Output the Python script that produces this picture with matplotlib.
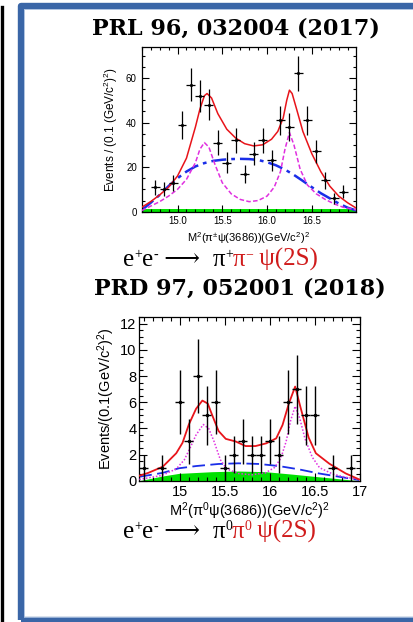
import matplotlib
matplotlib.use("Agg")
import numpy as np
import matplotlib.pyplot as plt
from matplotlib.ticker import MultipleLocator, FormatStrFormatter, FuncFormatter
from matplotlib.patches import Rectangle
from matplotlib.lines import Line2D

plt.rcParams['font.family'] = ['Liberation Sans', 'DejaVu Sans']
plt.rcParams['mathtext.fontset'] = 'custom'
plt.rcParams['mathtext.rm'] = 'Liberation Sans'
plt.rcParams['mathtext.it'] = 'Liberation Sans:italic'
plt.rcParams['mathtext.bf'] = 'Liberation Sans:bold'

# ---------------- e+e- -> pi+ pi- psi(2S) ----------------
charged_m2 = [14.75, 14.85, 14.95, 15.05, 15.15, 15.25, 15.35, 15.45, 15.55, 15.65, 15.75,
              15.85, 15.95, 16.05, 16.15, 16.25, 16.35, 16.45, 16.55, 16.65, 16.75, 16.85]
charged_counts = [11, 10, 13, 39, 57, 52, 48, 31, 22, 32, 17,
                  26, 32, 23, 41, 38, 62, 41, 27, 14, 6, 9]

charged_total_x = [14.60, 14.70, 14.80, 14.90, 15.00, 15.10, 15.20, 15.25, 15.30, 15.33, 15.38,
                   15.45, 15.55, 15.65, 15.75, 15.85, 15.95, 16.05, 16.12, 16.18, 16.22, 16.25,
                   16.28, 16.33, 16.40, 16.50, 16.60, 16.70, 16.80, 16.90, 17.00]
charged_total_y = [2.0, 4.5, 7.5, 11.0, 16.0, 24.0, 38.0, 46.0, 52.0, 53.0, 51.0,
                   44.0, 37.0, 33.0, 30.5, 29.5, 30.0, 32.5, 36.0, 42.0, 50.0, 54.5,
                   53.0, 46.0, 36.0, 26.0, 18.0, 11.5, 7.0, 4.0, 1.5]

charged_signal_x = [14.60, 14.70, 14.80, 14.90, 15.00, 15.10, 15.20, 15.25, 15.30, 15.35, 15.42,
                    15.50, 15.60, 15.70, 15.80, 15.90, 16.00, 16.08, 16.15, 16.20, 16.25, 16.30,
                    16.37, 16.45, 16.55, 16.65, 16.75, 16.85, 17.00]
charged_signal_y = [0.5, 2.5, 4.5, 7.0, 10.0, 14.5, 22.0, 28.0, 31.0, 29.0, 21.0,
                    13.0, 8.0, 5.5, 4.5, 5.0, 7.0, 11.0, 18.0, 28.0, 35.5, 30.0,
                    19.0, 12.0, 8.0, 5.5, 3.5, 2.0, 0.8]

charged_bkg_x = [14.60, 14.70, 14.80, 14.90, 15.00, 15.10, 15.20, 15.30, 15.40, 15.50, 15.60,
                 15.70, 15.80, 15.90, 16.00, 16.10, 16.20, 16.30, 16.40, 16.50, 16.60, 16.70,
                 16.80, 16.90, 17.00]
charged_bkg_y = [0.7, 4.0, 7.5, 11.5, 15.0, 18.0, 20.3, 21.8, 22.8, 23.3, 23.6,
                 23.7, 23.6, 23.2, 22.2, 20.8, 18.9, 16.5, 13.8, 11.0, 8.3, 6.0,
                 3.7, 1.8, 0.5]

charged_band_x = [14.60, 17.00]
charged_band_y = [1.3, 1.3]

# ---------------- e+e- -> pi0 pi0 psi(2S) ----------------
neutral_m2 = [14.6, 14.8, 15.0, 15.1, 15.2, 15.3, 15.4, 15.5, 15.6, 15.7,
              15.8, 15.9, 16.0, 16.1, 16.2, 16.3, 16.4, 16.5, 16.7, 16.9]
neutral_counts = [1, 1, 6, 3, 8, 5, 6, 1, 2, 3,
                  2, 2, 3, 2, 6, 7, 5, 5, 1, 1]

neutral_total_x = [14.55, 14.65, 14.81, 14.96, 15.03, 15.10, 15.18, 15.25, 15.31, 15.36, 15.43,
                   15.51, 15.62, 15.73, 15.84, 15.96, 16.07, 16.14, 16.21, 16.28, 16.34, 16.43,
                   16.51, 16.66, 16.84, 16.99]
neutral_total_y = [0.38, 0.6, 1.07, 2.1, 2.9, 4.3, 5.5, 6.13, 5.9, 5.0, 3.8,
                   3.2, 3.0, 2.65, 2.65, 2.86, 3.24, 4.26, 5.9, 7.2, 5.6, 3.3,
                   2.1, 1.3, 0.56, 0.1]

neutral_signal_x = [14.55, 14.80, 14.96, 15.05, 15.12, 15.18, 15.26, 15.32, 15.38, 15.45, 15.52,
                    15.65, 15.80, 15.95, 16.05, 16.12, 16.18, 16.23, 16.28, 16.33, 16.39, 16.47,
                    16.55, 16.70, 16.85, 17.00]
neutral_signal_y = [0.1, 0.4, 0.9, 1.6, 2.6, 3.5, 4.3, 4.0, 3.0, 1.6, 0.9,
                    0.55, 0.45, 0.6, 1.0, 1.7, 3.0, 4.6, 5.7, 4.8, 3.2, 1.8,
                    1.0, 0.5, 0.25, 0.1]

neutral_bkg_x = [14.55, 14.81, 14.99, 15.18, 15.43, 15.65, 15.88, 16.10, 16.32, 16.54, 16.77, 16.99]
neutral_bkg_y = [0.3, 0.6, 0.95, 1.12, 1.28, 1.33, 1.28, 1.12, 0.87, 0.56, 0.3, 0.05]

neutral_band_x = [14.55, 14.81, 14.99, 15.36, 15.65, 15.95, 16.25, 16.54, 16.84, 16.99]
neutral_band_y = [0.0, 0.36, 0.56, 0.69, 0.74, 0.69, 0.5, 0.3, 0.1, 0.0]

RED = '#e8141a'
MAGENTA = '#e030e0'
BLUE = '#1a2ee8'
GREEN = '#00e000'
TEXT_RED = '#d01c1c'

W, H = 414, 622
fig = plt.figure(figsize=(W / 100, H / 100), dpi=100)
fig.patch.set_facecolor('white')

# page decorations: black rule at the left, blue frame around the panel
fig.add_artist(Line2D([2 / W, 2 / W], [0, 1 - 7 / H], color='black', lw=2.4,
                      transform=fig.transFigure))
fig.add_artist(Rectangle((21.5 / W, 1 - 620 / H), 1.2, (614 / H), fill=False,
                         edgecolor='#3a66a7', lw=4.6, joinstyle='round',
                         transform=fig.transFigure))
fig.add_artist(Rectangle((24.5 / W, 1 - 617 / H), 1.2, (608 / H), fill=False,
                         edgecolor='#a9bfdf', lw=0.6,
                         transform=fig.transFigure))


def style_axes(ax, xmaj, xmin, ymaj, ymin, size, major_len, minor_len):
    ax.xaxis.set_major_locator(MultipleLocator(xmaj))
    ax.xaxis.set_minor_locator(MultipleLocator(xmin))
    ax.yaxis.set_major_locator(MultipleLocator(ymaj))
    ax.yaxis.set_minor_locator(MultipleLocator(ymin))
    ax.tick_params(which='both', direction='in', top=True, right=True, labelsize=size,
                   width=0.8)
    ax.tick_params(which='major', length=major_len)
    ax.tick_params(which='minor', length=minor_len)
    for s in ax.spines.values():
        s.set_linewidth(0.9)


# ---------------- upper panel ----------------
ax1 = fig.add_axes([141.7 / W, 1 - 211.7 / H, 214 / W, 165 / H])
ax1.fill_between(charged_band_x, 0, charged_band_y, color=GREEN, lw=0, zorder=1)
ax1.plot(charged_bkg_x, charged_bkg_y, color=BLUE, lw=1.8, ls=(0, (6, 2, 1.5, 2)), zorder=2)
ax1.plot(charged_signal_x, charged_signal_y, color=MAGENTA, lw=1.1, ls=(0, (3, 1.5)), zorder=3)
ax1.plot(charged_total_x, charged_total_y, color=RED, lw=1.1, zorder=4)
c_counts = np.array(charged_counts, dtype=float)
ax1.errorbar(charged_m2, c_counts, yerr=np.sqrt(c_counts), xerr=0.05, fmt='.', color='black',
             ms=2.5, elinewidth=0.9, capsize=0, zorder=5)
ax1.set_xlim(14.6, 16.99)
ax1.set_ylim(0, 74)
style_axes(ax1, 0.5, 0.1, 20, 5, 7, 5, 2.5)
ax1.xaxis.set_major_formatter(FormatStrFormatter('%.1f'))
ax1.tick_params(axis='x', pad=3)
ax1.set_xlabel('M$^2$(π$^{\\pm}$ψ(3686))(GeV/c$^2$)$^2$', fontsize=8, labelpad=3)
ax1.set_ylabel('Events / (0.1 (GeV/c$^2$)$^2$)', fontsize=8.5, labelpad=4)

# ---------------- lower panel ----------------
ax2 = fig.add_axes([139.3 / W, 1 - 480.7 / H, 220.7 / W, 163.4 / H])
ax2.fill_between(neutral_band_x, 0, neutral_band_y, color=GREEN, lw=0, zorder=1)
ax2.plot(neutral_bkg_x, neutral_bkg_y, color=BLUE, lw=1.3, ls=(0, (7, 3)), zorder=2)
ax2.plot(neutral_signal_x, neutral_signal_y, color=MAGENTA, lw=1.1, ls=(0, (1, 1.2)), zorder=3)
ax2.plot(neutral_total_x, neutral_total_y, color=RED, lw=1.3, zorder=4)
n_counts = np.array(neutral_counts, dtype=float)
ax2.errorbar(neutral_m2, n_counts, yerr=np.sqrt(n_counts), xerr=0.05, fmt='.', color='black',
             ms=3, elinewidth=1.0, capsize=0, zorder=5)
ax2.set_xlim(14.55, 17.0)
ax2.set_ylim(0, 12.5)
style_axes(ax2, 0.5, 0.1, 2, 0.5, 10.5, 6, 3)
ax2.xaxis.set_major_formatter(FuncFormatter(lambda v, p: f'{v:g}'))
ax2.tick_params(axis='x', pad=3)
ax2.tick_params(axis='y', pad=2)
ax2.set_xlabel('M$^2$(π$^0$ψ(3686))(GeV/c$^2$)$^2$', fontsize=10.5, labelpad=1)
ax2.set_ylabel('Events/(0.1(GeV/c$^2$)$^2$)', fontsize=10.5, labelpad=2)

# ---------------- titles ----------------
fig.text(236 / W, 1 - 29 / H, 'PRL 96, 032004 (2017)', ha='center', va='center',
         fontsize=16, fontweight='bold', family=['DejaVu Serif'])
fig.text(240 / W, 1 - 289 / H, 'PRD 97, 052001 (2018)', ha='center', va='center',
         fontsize=16, fontweight='bold', family=['DejaVu Serif'])

renderer = fig.canvas.get_renderer()
serif = ['Liberation Serif', 'DejaVu Serif', 'DejaVu Sans']


def reaction(x0, ybase, parts, size):
    """Draw a reaction line piece by piece; superscripts are smaller and raised."""
    cur = x0
    for txt, col, sup in parts:
        fs = size * 0.55 if sup else size
        yb = ybase - (size * 0.30 * 100 / 72 if sup else 0)
        t = fig.text(cur / W, 1 - yb / H, txt, color=col, fontsize=fs, family=serif,
                     ha='left', va='baseline')
        cur = t.get_window_extent(renderer).x1


reaction(123, 266, [('e', 'black', False), ('+', 'black', True), ('e', 'black', False),
                    ('-', 'black', True), (' ⟶  ', 'black', False), ('π', 'black', False),
                    ('+', 'black', True), ('π', TEXT_RED, False), ('−', TEXT_RED, True),
                    (' ψ(2S)', TEXT_RED, False)], 18)
reaction(123, 538, [('e', 'black', False), ('+', 'black', True), ('e', 'black', False),
                    ('-', 'black', True), (' ⟶  ', 'black', False), ('π', 'black', False),
                    ('0', 'black', True), ('π', TEXT_RED, False), ('0', TEXT_RED, True),
                    (' ψ(2S)', TEXT_RED, False)], 18)

fig.savefig('out.png', dpi=100)
